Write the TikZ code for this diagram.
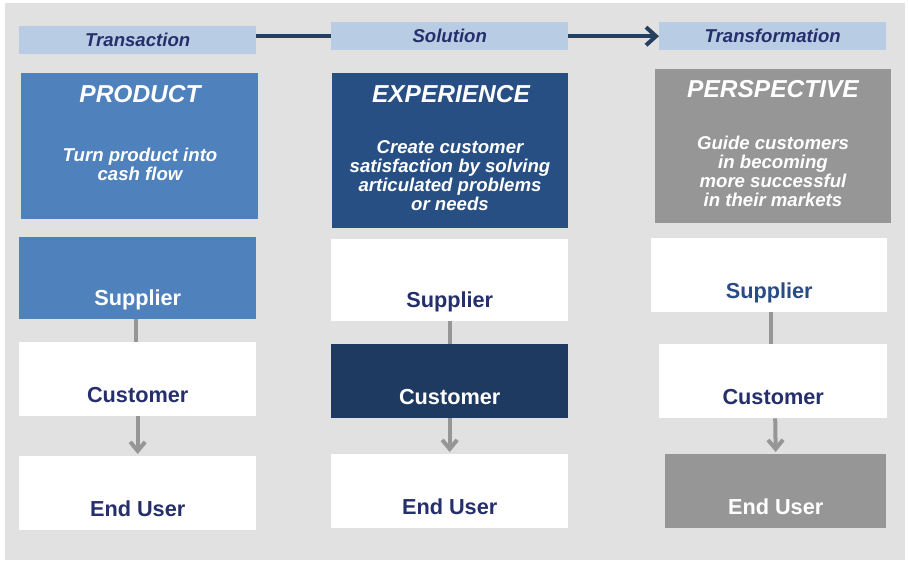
\documentclass[tikz,border=0pt]{standalone}
\usepackage{fontspec}
\setmainfont{Liberation Sans}
\usetikzlibrary{arrows.meta,calc}
\definecolor{bgc}{HTML}{E1E1E1}
\definecolor{lblue}{HTML}{B8CCE4}
\definecolor{navy}{HTML}{252F6B}
\definecolor{arrowc}{HTML}{243F60}
\definecolor{blueA}{HTML}{4F81BD}
\definecolor{blueB}{HTML}{284F84}
\definecolor{blueC}{HTML}{1F3A60}
\definecolor{greyA}{HTML}{969696}
\definecolor{supblue}{HTML}{2A4C86}
\begin{document}
\begin{tikzpicture}[x=1pt,y=-1pt,
  toplbl/.style={anchor=north west, inner sep=0pt, fill=lblue, minimum height=28pt,
    font=\bfseries\itshape\fontsize{18.6}{20}\selectfont, text=navy},
  cell/.style={anchor=north west, inner sep=0pt, text depth=14pt,
    font=\bfseries\fontsize{21.7}{23}\selectfont, text=navy, fill=white},
  bigbox/.style={anchor=north west, inner sep=0pt},
  ttl/.style={inner sep=0pt, text=white, font=\bfseries\itshape\fontsize{24.5}{26}\selectfont},
  sub/.style={inner sep=0pt, text=white, align=center, font=\bfseries\itshape\fontsize{18.6}{19}\selectfont},
  conn/.style={draw=greyA, line width=4pt},
  garrow/.style={conn, -{Straight Barb[length=9pt,width=15pt,line width=4pt]}},
  narrow/.style={draw=arrowc, line width=4pt, -{Straight Barb[length=10pt,width=18pt,line width=4pt]}}
]
\useasboundingbox (0,0) rectangle (908,562);
\fill[bgc] (5,3) rectangle (905,560);

% top labels
\node[toplbl, minimum width=237pt] (t1) at (19,26) {Transaction};
\node[toplbl, minimum width=237pt] (t2) at (331,22) {Solution};
\node[toplbl, minimum width=227pt] (t3) at (659,22) {Transformation};
\draw[draw=arrowc, line width=4pt] (t1.east |- t2.west) -- (t2.west);
\draw[narrow] (t2.east) -- (t3.west);

% title boxes
\node[bigbox, fill=blueA, minimum width=237pt, minimum height=146pt] (p1) at (21,73) {};
\node[bigbox, fill=blueB, minimum width=236pt, minimum height=155pt] (p2) at (332,73) {};
\node[bigbox, fill=greyA, minimum width=236pt, minimum height=154pt] (p3) at (655,69) {};
\node[ttl] (p1t) at (140,94) {PRODUCT};
\node[ttl] (p2t) at (451,94) {EXPERIENCE};
\node[ttl] (p3t) at (773,89) {PERSPECTIVE};
\node[sub] (p1s) at (140,164.5) {Turn product into\\cash flow};
\node[sub] (p2s) at (450,175.5) {Create customer\\satisfaction by solving\\articulated problems\\or needs};
\node[sub] (p3s) at (773,171.5) {Guide customers\\in becoming\\more successful\\in their markets};

% column 1
\node[cell, fill=blueA, text=white, minimum width=237pt, text height=68pt] (s1) at (19,237) {Supplier};
\node[cell, minimum width=237pt, text height=60pt] (c1) at (19,342) {Customer};
\node[cell, minimum width=237pt, text height=60pt] (e1) at (19,456) {End User};
% column 2
\node[cell, minimum width=237pt, text height=68pt] (s2) at (331,239) {Supplier};
\node[cell, fill=blueC, text=white, minimum width=237pt, text height=60pt] (c2) at (331,344) {Customer};
\node[cell, minimum width=237pt, text height=60pt] (e2) at (331,454) {End User};
% column 3
\node[cell, text=supblue, minimum width=236pt, text height=60pt] (s3) at (651,238) {Supplier};
\node[cell, minimum width=228pt, text height=60pt] (c3) at (659,344) {Customer};
\node[cell, fill=greyA, text=white, minimum width=221pt, text height=60pt] (e3) at (665,454) {End User};

% connectors
\draw[conn] ([xshift=-2pt]s1.south) -- ([xshift=-2pt]c1.north);
\draw[garrow] (c1.south) -- ([yshift=2pt]e1.north);
\draw[conn] (s2.south) -- (s2.south |- c2.north);
\draw[garrow] (c2.south) -- ([yshift=2pt]e2.north);
\draw[conn] ([xshift=2pt]s3.south) -- ([xshift=-2pt]c3.north);
\draw[garrow] ([xshift=2pt]c3.south) -- ([yshift=2pt]e3.north);
\end{tikzpicture}
\end{document}
